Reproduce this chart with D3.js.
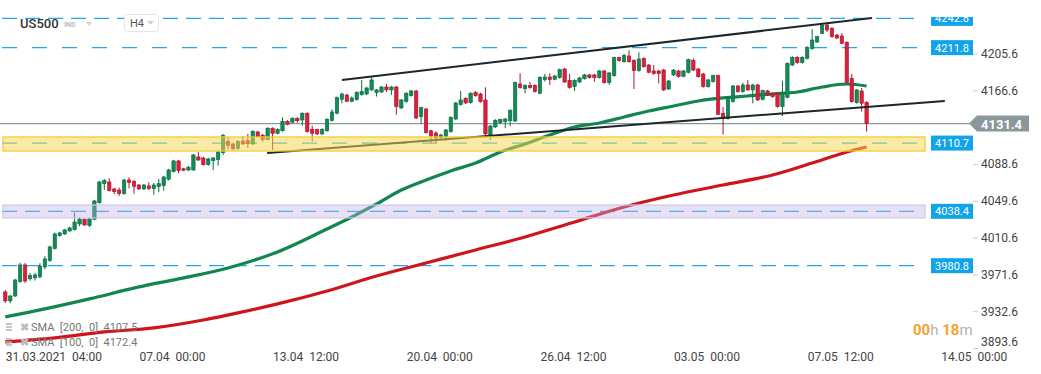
<!DOCTYPE html>
<html>
<head>
<meta charset="utf-8">
<script src="https://cdn.jsdelivr.net/npm/d3@7"></script>
<style>
  body { margin: 0; background: #fff; }
  svg { display: block; font-family: Roboto, "Noto Sans", sans-serif; }
</style>
</head>
<body>
<svg id="chart" width="1041" height="374"></svg>
<script>
// H4 candles, US500
const opens = [3953.0,3943.5,3948.7,3964.0,3981.6,3966.9,3968.0,3968.9,3979.5,3986.1,
  3998.9,4012.6,4014.4,4017.6,4019.0,4025.0,4030.0,4023.2,4030.0,4047.6,
  4067.7,4069.5,4062.1,4061.0,4057.1,4071.6,4070.2,4066.3,4062.1,4065.3,
  4062.4,4064.6,4065.6,4072.4,4080.4,4091.8,4083.5,4082.2,4082.2,4096.0,
  4094.9,4087.8,4092.1,4093.1,4100.5,4112.6,4109.8,4104.8,4112.9,4113.3,
  4109.8,4122.5,4119.0,4114.7,4126.4,4121.1,4123.8,4133.8,4132.8,4137.0,
  4135.2,4142.3,4125.3,4124.9,4120.4,4123.8,4134.5,4142.3,4157.1,4161.7,
  4155.0,4156.7,4162.0,4162.7,4167.0,4164.1,4164.8,4170.1,4167.0,4170.1,
  4147.9,4154.6,4160.9,4165.9,4138.7,4146.8,4123.8,4121.4,4116.4,4117.5,
  4122.8,4136.2,4151.4,4158.2,4153.5,4164.1,4162.7,4156.4,4119.3,4127.8,
  4132.3,4133.4,4134.4,4134.1,4173.3,4168.3,4171.9,4171.9,4163.5,4177.9,
  4180.7,4178.3,4180.0,4189.2,4177.2,4170.5,4175.4,4178.9,4182.9,4182.9,
  4180.0,4187.1,4174.7,4182.1,4201.2,4196.9,4203.0,4198.4,4187.4,4200.5,
  4193.4,4187.1,4187.1,4188.1,4168.0,4182.9,4187.1,4181.5,4185.7,4198.4,
  4189.2,4183.9,4170.5,4175.8,4182.1,4142.3,4136.6,4154.6,4171.2,4165.2,
  4172.3,4167.0,4172.3,4157.1,4165.9,4163.5,4163.5,4149.3,4159.2,4193.4,
  4201.6,4195.9,4200.5,4210.7,4217.8,4227.0,4235.8,4232.3,4225.2,4224.2,
  4217.5,4179.4,4153.5,4165.9,4154.0];
const highs = [3955.1,3949.8,3966.8,3984.0,3983.7,3973.1,3973.1,3983.4,3990.8,4002.0,
  4016.0,4016.6,4019.7,4022.0,4037.0,4032.4,4031.0,4031.5,4050.5,4070.5,
  4072.7,4073.4,4063.5,4063.5,4072.7,4074.5,4071.6,4067.4,4067.4,4069.2,
  4068.4,4072.7,4076.0,4083.5,4093.0,4093.0,4084.5,4086.5,4099.2,4101.3,
  4096.0,4095.0,4096.0,4102.4,4120.4,4116.9,4111.0,4113.8,4117.9,4120.4,
  4124.3,4123.6,4120.4,4127.5,4127.5,4126.4,4138.0,4134.9,4138.0,4138.0,
  4143.3,4143.3,4129.1,4126.0,4126.4,4137.0,4146.5,4160.0,4164.1,4162.8,
  4160.3,4165.6,4177.6,4170.2,4181.1,4168.0,4171.2,4173.3,4171.2,4171.2,
  4157.5,4164.6,4167.0,4167.0,4149.3,4148.0,4124.9,4123.2,4120.4,4125.7,
  4139.1,4154.3,4165.9,4159.2,4164.6,4165.9,4164.1,4169.8,4130.0,4136.0,
  4136.6,4137.3,4146.6,4175.8,4184.7,4173.0,4175.4,4173.0,4181.5,4183.9,
  4184.7,4182.9,4189.6,4190.3,4184.2,4178.3,4180.7,4184.0,4184.0,4184.0,
  4188.2,4188.2,4186.1,4202.2,4202.2,4205.4,4209.0,4199.5,4206.9,4201.6,
  4194.5,4193.4,4188.2,4189.2,4177.6,4189.2,4188.2,4188.2,4200.1,4200.5,
  4190.3,4185.0,4178.7,4183.2,4183.2,4149.0,4160.3,4172.3,4172.3,4174.7,
  4177.6,4173.4,4173.4,4167.3,4167.0,4164.6,4164.6,4176.8,4196.3,4202.7,
  4202.7,4202.7,4213.3,4231.3,4224.5,4236.9,4236.9,4233.7,4226.3,4227.3,
  4218.5,4183.9,4168.0,4169.1,4155.0];
const lows = [3941.3,3941.0,3947.7,3962.5,3962.5,3965.0,3965.0,3967.5,3977.0,3985.0,
  3998.0,4011.5,4013.5,4016.6,4018.0,4022.6,4023.0,4021.8,4029.0,4046.5,
  4061.0,4059.3,4056.5,4054.7,4056.0,4062.8,4057.1,4061.0,4061.0,4061.0,
  4056.0,4058.6,4060.3,4071.0,4079.5,4078.7,4081.0,4081.0,4081.2,4091.7,
  4086.7,4086.7,4082.2,4086.8,4098.1,4104.2,4103.4,4103.8,4108.7,4105.5,
  4108.7,4116.4,4112.2,4113.6,4103.4,4120.0,4122.7,4129.5,4131.7,4132.3,
  4129.1,4121.7,4112.2,4119.3,4119.3,4122.7,4133.4,4141.2,4152.9,4154.0,
  4154.0,4155.6,4161.0,4161.6,4165.9,4160.0,4163.7,4164.8,4161.7,4140.8,
  4146.8,4153.5,4159.8,4136.2,4131.0,4120.6,4110.5,4110.5,4114.6,4113.0,
  4121.7,4135.1,4150.4,4152.1,4152.4,4159.8,4153.5,4117.0,4114.0,4126.7,
  4131.2,4126.4,4128.5,4133.0,4168.3,4163.5,4168.3,4164.1,4162.4,4175.8,
  4172.3,4177.2,4179.0,4174.4,4168.3,4165.9,4174.4,4177.9,4179.0,4175.8,
  4179.0,4173.6,4172.3,4181.0,4197.0,4195.9,4195.9,4168.0,4186.3,4190.5,
  4184.6,4183.1,4174.1,4165.9,4167.0,4181.8,4180.0,4180.4,4184.6,4187.0,
  4180.0,4169.4,4169.4,4174.7,4140.2,4119.6,4135.5,4153.5,4164.1,4164.1,
  4166.0,4152.9,4155.3,4156.0,4160.6,4158.8,4148.2,4139.4,4158.1,4192.3,
  4194.8,4194.8,4199.4,4209.6,4216.7,4225.9,4228.4,4222.3,4220.9,4215.3,
  4173.6,4153.5,4152.4,4144.0,4122.8];
const closes = [3943.5,3948.7,3965.7,3981.6,3964.6,3970.5,3971.0,3980.5,3988.0,4000.7,
  4014.4,4015.5,4018.7,4020.8,4027.1,4030.3,4024.0,4030.3,4049.4,4069.5,
  4070.9,4060.3,4059.2,4057.1,4071.6,4068.8,4064.9,4062.1,4066.3,4062.4,
  4066.3,4067.7,4074.8,4082.2,4091.8,4081.5,4082.0,4085.1,4098.1,4092.8,
  4087.8,4093.9,4094.9,4101.3,4119.0,4108.4,4104.5,4112.6,4109.8,4110.5,
  4123.2,4117.5,4114.7,4126.4,4121.1,4125.3,4133.8,4130.6,4137.0,4134.4,
  4142.3,4122.8,4121.1,4120.4,4125.3,4135.9,4143.7,4158.8,4162.7,4155.0,
  4158.5,4164.5,4165.2,4169.1,4177.6,4167.0,4170.1,4167.0,4170.1,4149.3,
  4156.4,4163.5,4165.9,4137.3,4148.2,4121.7,4118.2,4116.1,4119.3,4124.6,
  4138.0,4153.2,4156.4,4153.2,4163.5,4160.9,4154.6,4120.4,4128.8,4134.9,
  4135.5,4136.2,4145.5,4174.7,4169.4,4171.9,4169.4,4165.2,4180.4,4180.7,
  4177.9,4181.8,4188.5,4175.4,4169.4,4177.2,4179.7,4182.9,4180.0,4180.0,
  4187.1,4174.7,4185.0,4201.2,4198.0,4203.3,4196.9,4187.4,4199.8,4191.6,
  4185.7,4184.2,4184.2,4167.0,4176.5,4188.1,4181.1,4187.1,4199.1,4188.1,
  4181.1,4170.5,4177.6,4182.1,4141.2,4137.0,4159.2,4171.2,4165.2,4172.3,
  4167.0,4172.3,4156.4,4166.2,4161.7,4159.9,4149.3,4163.5,4195.2,4201.6,
  4195.9,4201.6,4212.2,4219.9,4223.4,4235.8,4230.5,4223.4,4222.0,4216.4,
  4174.7,4154.6,4167.0,4152.9,4131.4];

// moving averages, sampled at bar indices
const sma100Bars = [0,8,17,27,35,45,55,65,70,75,80,85,90,95,100,105,110,115,120,125,130,135,140,145,150,155,160,165,170,174];
const sma100 = [3926.5,3935.0,3945.6,3958.3,3966.8,3978.4,3995.4,4019.7,4032.4,4046.2,4061.0,4071.6,4081.2,4089.6,4101.3,
  4109.8,4119.3,4127.8,4132.0,4138.4,4144.7,4150.0,4155.3,4158.5,4160.6,4162.7,4164.8,4170.1,4173.3,4171.2];
const sma200Bars = [0,10,20,30,40,47,55,65,75,85,95,105,115,125,135,145,155,163,170,174];
const sma200 = [3900.0,3904.3,3910.6,3914.9,3923.3,3930.8,3940.3,3954.0,3969.9,3983.7,3997.5,4011.2,4027.1,4043.0,4055.7,
  4066.3,4076.9,4089.6,4101.3,4106.6];

// drawn objects
const channelTop = [[68, 4177.6], [175.1, 4243.2]];
const channelBottom = [[52.9, 4100.2], [189.8, 4155.3]];
const levels = [4242.8, 4211.8, 4110.7, 4038.4, 3980.8];
const levelDash = ["15,8", "15,15", "15,15", "15,8", "15,8"];
const zones = [[4102.3, 4117.2, "#f8d64e", "#f2c935", 0.52], [4031.4, 4045.1, "#bfb0e4", "#d0c7ea", 0.38]];
const lastPrice = 4131.4;

const yTicks = [3893.6, 3932.6, 3971.6, 4010.6, 4049.6, 4088.6, 4166.6, 4205.6];
const xTickBars = [0, 27, 54, 81, 108, 135, 162, 189];
const xTickLabels = ["31.03.2021  04:00", "07.04  00:00", "13.04  12:00", "20.04  00:00",
  "26.04  12:00", "03.05  00:00", "07.05  12:00", "14.05  00:00"];

const svg = d3.select("#chart");
const x = d3.scaleLinear().domain([0, 174]).range([5.3, 866.6]);
const y = d3.scaleLinear().domain([3893.6, 4205.6]).range([348, 53.5]);
const plotRight = 925;

const green = "#138a57", greenDark = "#0b6a41";
const red = "#d81f3b", redDark = "#a8162c";

// current price line
svg.append("line")
  .attr("x1", 0).attr("x2", 970)
  .attr("y1", y(lastPrice)).attr("y2", y(lastPrice))
  .attr("stroke", "#8c979c").attr("stroke-width", 1.2);

// horizontal dashed levels
svg.append("g").selectAll("line")
  .data(levels)
  .join("line")
  .attr("x1", 2).attr("x2", plotRight - 8)
  .attr("y1", d => y(d)).attr("y2", d => y(d))
  .attr("stroke", "#22a7ec").attr("stroke-width", 1.3)
  .attr("stroke-dasharray", (d, i) => levelDash[i]);

// moving averages
const line = d3.line().curve(d3.curveMonotoneX);
svg.append("path")
  .attr("d", line(sma200Bars.map((b, i) => [x(b), y(sma200[i])])))
  .attr("fill", "none").attr("stroke", "#d0141b").attr("stroke-width", 3.2);
svg.append("path")
  .attr("d", line(sma100Bars.map((b, i) => [x(b), y(sma100[i])])))
  .attr("fill", "none").attr("stroke", "#118650").attr("stroke-width", 3.2);

// candles
const idx = d3.range(opens.length);
const candles = svg.append("g").selectAll("g")
  .data(idx)
  .join("g");
candles.append("line")
  .attr("x1", i => x(i)).attr("x2", i => x(i))
  .attr("y1", i => y(highs[i])).attr("y2", i => y(lows[i]))
  .attr("stroke", i => closes[i] >= opens[i] ? greenDark : redDark)
  .attr("stroke-width", 1);
candles.append("rect")
  .attr("x", i => x(i) - 1.7)
  .attr("width", 3.4)
  .attr("y", i => y(Math.max(opens[i], closes[i])))
  .attr("height", i => Math.max(1, Math.abs(y(opens[i]) - y(closes[i]))))
  .attr("fill", i => closes[i] >= opens[i] ? green : red)
  .attr("stroke", i => closes[i] >= opens[i] ? greenDark : redDark)
  .attr("stroke-width", 0.6);

// channel
[channelTop, channelBottom].forEach(c => {
  svg.append("line")
    .attr("x1", x(c[0][0])).attr("y1", y(c[0][1]))
    .attr("x2", x(c[1][0])).attr("y2", y(c[1][1]))
    .attr("stroke", "#1e262c").attr("stroke-width", 2);
});

// zones drawn on top, translucent
svg.append("g").selectAll("rect")
  .data(zones)
  .join("rect")
  .attr("x", 3).attr("width", plotRight - 3)
  .attr("y", d => y(d[1])).attr("height", d => y(d[0]) - y(d[1]))
  .attr("fill", d => d[2]).attr("fill-opacity", d => d[4])
  .attr("stroke", d => d[3]).attr("stroke-width", 1.2);

// level labels on the right
const tags = svg.append("g").attr("clip-path", "url(#tagclip)");
svg.append("clipPath").attr("id", "tagclip")
  .append("rect").attr("x", 0).attr("y", 17).attr("width", 1041).attr("height", 360);
levels.forEach(v => {
  tags.append("rect")
    .attr("x", 931).attr("y", y(v) - 7.5).attr("width", 42).attr("height", 15)
    .attr("fill", "#12a4e8");
  tags.append("text")
    .attr("x", 952).attr("y", y(v) + 4)
    .attr("text-anchor", "middle")
    .attr("font-size", 11).attr("fill", "#fff")
    .text(v.toFixed(1));
});

// last price tag
const ly = y(lastPrice);
svg.append("path")
  .attr("d", `M969,${ly} L977,${ly - 8} L1029,${ly - 8} L1029,${ly + 8} L977,${ly + 8} Z`)
  .attr("fill", "#8c979c");
svg.append("text")
  .attr("x", 981).attr("y", ly + 5)
  .attr("font-size", 13).attr("font-weight", "bold").attr("fill", "#fff")
  .text(lastPrice.toFixed(1));

// right price axis
const yAxis = svg.append("g")
  .attr("transform", "translate(973,0)")
  .call(d3.axisRight(y).tickValues(yTicks).tickSize(5).tickPadding(3).tickFormat(d => d.toFixed(1)));
yAxis.select(".domain").remove();
yAxis.selectAll(".tick line").attr("stroke", "#ccc");
yAxis.selectAll(".tick text").attr("font-size", 12).attr("fill", "#444").attr("font-family", "Roboto, sans-serif");
yAxis.selectAll(".tick").filter(d => y(d) > 343).select("text").attr("y", -6);

// time axis
const xAxis = svg.append("g")
  .attr("transform", "translate(0,348)")
  .call(d3.axisBottom(x).tickValues(xTickBars).tickSize(0).tickPadding(4)
    .tickFormat((d, i) => xTickLabels[i]));
xAxis.select(".domain").remove();
xAxis.selectAll(".tick text")
  .attr("text-anchor", "start")
  .attr("font-size", 12).attr("fill", "#444").attr("font-family", "Roboto, sans-serif")
  .style("white-space", "pre");

// header
svg.append("text").attr("x", 20).attr("y", 28).attr("font-size", 13).attr("font-weight", 500)
  .attr("fill", "#333").text("US500");
svg.append("text").attr("x", 64).attr("y", 27).attr("font-size", 7).attr("font-weight", "bold")
  .attr("fill", "#b9bec2").text("IND");
svg.append("path").attr("d", "M86,22 L92,22 L89,26 Z").attr("fill", "#cfd3d6");
svg.append("rect").attr("x", 124.5).attr("y", 14.5).attr("width", 34).attr("height", 17).attr("rx", 3)
  .attr("fill", "#fff").attr("stroke", "#e2e4e6");
svg.append("text").attr("x", 130).attr("y", 27).attr("font-size", 11).attr("fill", "#555").text("H4");
svg.append("path").attr("d", "M147,21 L154,21 L150.5,25 Z").attr("fill", "#cfd3d6");

// legend
const legend = [["SMA  [200,  0]  4107.5", 327], ["SMA  [100,  0]  4172.4", 342]];
legend.forEach(l => {
  const g = svg.append("g").attr("transform", `translate(0,${l[1]})`);
  [-3, 0, 3].forEach(dy => g.append("line").attr("x1", 6).attr("x2", 12).attr("y1", dy).attr("y2", dy)
    .attr("stroke", "#b5b5b5").attr("stroke-width", 1.5));
  g.append("text").attr("x", 20).attr("y", 4).attr("font-size", 11).attr("fill", "#bdbdbd")
    .attr("font-weight", "bold").text("\u2716");
  g.append("text").attr("x", 31).attr("y", 4).attr("font-size", 11).attr("fill", "#777")
    .style("white-space", "pre").text(l[0]);
});

// candle timer
const timer = svg.append("text").attr("x", 913).attr("y", 335).attr("font-size", 15);
timer.append("tspan").attr("fill", "#f7a22a").attr("font-weight", "bold").text("00");
timer.append("tspan").attr("fill", "#b3b3b3").text("h ");
timer.append("tspan").attr("fill", "#f7a22a").attr("font-weight", "bold").text("18");
timer.append("tspan").attr("fill", "#b3b3b3").text("m");
</script>
</body>
</html>
